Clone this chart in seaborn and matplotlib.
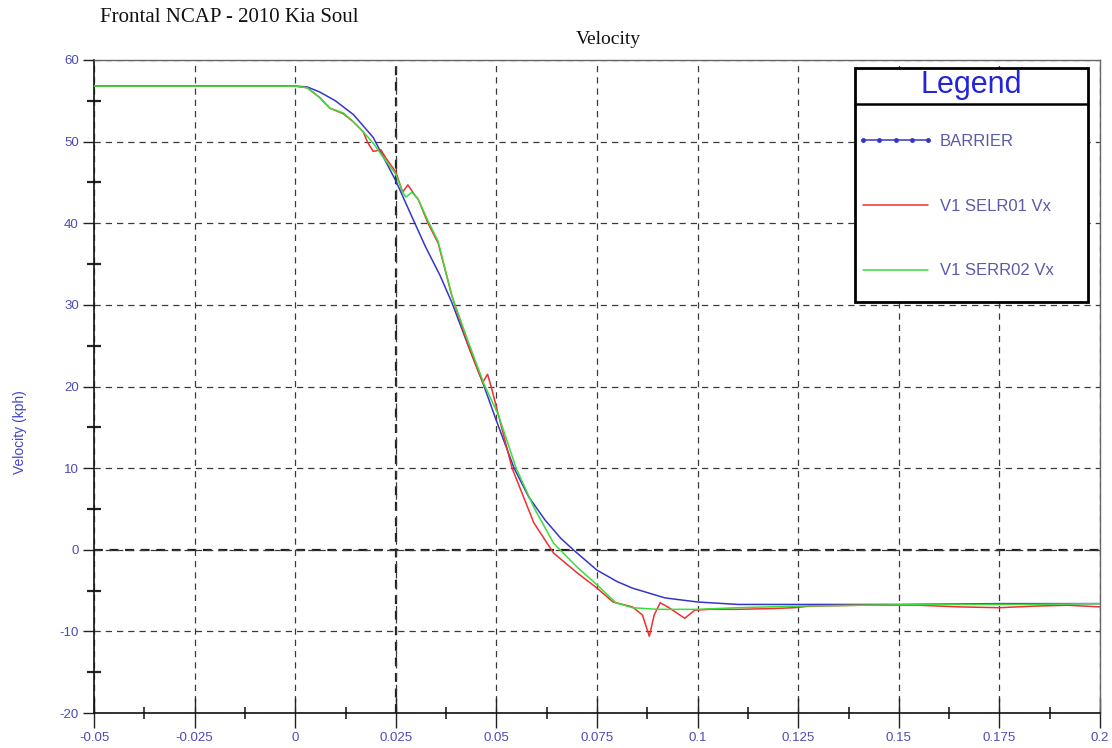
import numpy as np
import pandas as pd
import matplotlib
matplotlib.use("Agg")
import matplotlib.pyplot as plt
from matplotlib.lines import Line2D
from matplotlib.patches import Rectangle
from matplotlib.ticker import MultipleLocator
import seaborn as sns

# curves (time in s, velocity in kph)
t_barrier = [-0.05, 0.0, 0.003, 0.006, 0.010, 0.0145, 0.0194, 0.0233, 0.025, 0.029,
             0.0324, 0.036, 0.039, 0.043, 0.0466, 0.050, 0.0544, 0.058, 0.062, 0.066,
             0.0691, 0.075, 0.080, 0.0838, 0.0919, 0.100, 0.110, 0.125, 0.150, 0.175, 0.200]
v_barrier = [56.8, 56.8, 56.7, 56.1, 55.0, 53.3, 50.5, 46.8, 45.2, 40.8,
             37.1, 33.6, 30.2, 25.0, 20.5, 15.8, 10.0, 6.5, 3.7, 1.4,
             0.0, -2.5, -3.9, -4.7, -5.9, -6.4, -6.7, -6.7, -6.7, -6.6, -6.6]

t_selr01 = [-0.05, 0.0, 0.003, 0.0061, 0.0086, 0.012, 0.0145, 0.0169, 0.018, 0.0194,
            0.0213, 0.0225, 0.025, 0.0267, 0.028, 0.0295, 0.0306, 0.033, 0.0355, 0.039,
            0.043, 0.0466, 0.0478, 0.0488, 0.0505, 0.0539, 0.0593, 0.0642, 0.070, 0.075,
            0.079, 0.0838, 0.0863, 0.088, 0.0892, 0.0907, 0.0929, 0.0968, 0.0993, 0.103,
            0.110, 0.119, 0.124, 0.128, 0.140, 0.155, 0.165, 0.175, 0.184, 0.192, 0.200]
v_selr01 = [56.8, 56.8, 56.6, 55.4, 54.1, 53.4, 52.4, 51.2, 49.9, 48.8,
            49.0, 48.0, 46.3, 43.8, 44.7, 43.6, 42.9, 40.0, 37.6, 31.0,
            25.0, 20.5, 21.5, 19.8, 16.5, 10.0, 3.3, -0.4, -2.8, -4.7,
            -6.4, -7.0, -8.0, -10.6, -8.0, -6.5, -7.1, -8.4, -7.4, -7.3,
            -7.3, -7.2, -7.1, -6.9, -6.8, -6.8, -7.0, -7.1, -6.9, -6.8, -7.0]

t_serr02 = [-0.05, 0.0, 0.003, 0.0061, 0.0086, 0.012, 0.0145, 0.0169, 0.0194, 0.022,
            0.025, 0.0267, 0.0275, 0.029, 0.0306, 0.033, 0.0355, 0.039, 0.043, 0.047,
            0.0505, 0.0549, 0.0593, 0.0642, 0.070, 0.075, 0.0797, 0.0838, 0.090, 0.100,
            0.110, 0.125, 0.140, 0.160, 0.180, 0.200]
v_serr02 = [56.8, 56.8, 56.6, 55.4, 54.1, 53.5, 52.4, 51.2, 49.8, 48.0,
            46.0, 43.8, 43.2, 43.8, 42.9, 40.3, 37.8, 31.0, 25.5, 20.2,
            16.5, 10.0, 5.2, 0.8, -2.1, -4.3, -6.5, -7.1, -7.3, -7.3,
            -7.1, -6.9, -6.8, -6.7, -6.7, -6.6]

series_names = ["BARRIER", "V1 SELR01 Vx", "V1 SERR02 Vx"]
series_colors = {"BARRIER": "#3535c8", "V1 SELR01 Vx": "#ee3030", "V1 SERR02 Vx": "#3cdc3c"}

x_ticks = [-0.05, -0.025, 0, 0.025, 0.05, 0.075, 0.1, 0.125, 0.15, 0.175, 0.2]
x_tick_labels = ["-0.05", "-0.025", "0", "0.025", "0.05", "0.075", "0.1", "0.125", "0.15", "0.175", "0.2"]
y_ticks = [-20, -10, 0, 10, 20, 30, 40, 50, 60]

# long table for seaborn
frames = []
for name, t, v in zip(series_names, [t_barrier, t_selr01, t_serr02], [v_barrier, v_selr01, v_serr02]):
    frames.append(pd.DataFrame({"time": t, "velocity": v, "series": name}))
df = pd.concat(frames, ignore_index=True)

sns.set_style("white")
plt.rcParams["font.family"] = ["Liberation Sans", "DejaVu Sans"]
plt.rcParams["axes.unicode_minus"] = False

fig = plt.figure(figsize=(11.12, 7.48), dpi=100)
ax = fig.add_axes([94 / 1112, 35 / 748, 1006 / 1112, 653 / 748])

label_blue = "#4b4bb8"
grid_kw = dict(color="#3a3a3a", linestyle=(0, (5, 4)), linewidth=0.9)

ax.set_xlim(-0.05, 0.2)
ax.set_ylim(-20, 60)
ax.set_xticks(x_ticks)
ax.set_xticklabels(x_tick_labels)
ax.set_yticks(y_ticks)
ax.xaxis.set_minor_locator(MultipleLocator(0.0125))
ax.yaxis.set_minor_locator(MultipleLocator(5))
ax.grid(True, which="major", **grid_kw)
ax.set_axisbelow(True)
# the two darker grid lines of the scan
ax.axvline(0.025, color="#222222", linestyle=(0, (4, 3)), linewidth=1.6, zorder=0.5)
ax.axhline(0, color="#222222", linestyle=(0, (4, 3)), linewidth=1.6, zorder=0.5)

sns.lineplot(data=df, x="time", y="velocity", hue="series", hue_order=series_names,
             palette=series_colors, estimator=None, sort=False, linewidth=1.1,
             legend=False, ax=ax, zorder=3)

ax.tick_params(axis="x", which="major", length=21, width=1, direction="inout", color="#222222",
               pad=3.5, labelsize=9.5, labelcolor=label_blue, bottom=True)
ax.tick_params(axis="y", which="major", length=8, width=1, direction="out", color="#222222",
               pad=3, labelsize=9.5, labelcolor=label_blue, left=True)
ax.tick_params(axis="x", which="minor", length=9, width=1.2, direction="inout", color="#222222", bottom=True)
ax.tick_params(axis="y", which="minor", length=10, width=1.6, direction="inout", color="#222222", left=True)

for side in ["left", "bottom"]:
    ax.spines[side].set_color("#111111")
    ax.spines[side].set_linewidth(1.2)
for side in ["top", "right"]:
    ax.spines[side].set_color("#666666")
    ax.spines[side].set_linewidth(1.0)

ax.set_xlabel("")
ax.set_ylabel("Velocity (kph)", color="#4444cc", fontsize=10)
ax.yaxis.set_label_coords(-0.0665, 0.43)

fig.text(100 / 1112, 1 - 17 / 748, "Frontal NCAP - 2010 Kia Soul", ha="left", va="center",
         fontsize=15, family=["Liberation Serif", "DejaVu Serif"], color="#111111")
fig.text(608 / 1112, 1 - 40 / 748, "Velocity", ha="center", va="center",
         fontsize=14, family=["Liberation Serif", "DejaVu Serif"], color="#111111")

# legend: framed box with a "Legend" header row
box_x0, box_x1 = (855 - 94) / 1006, (1088 - 94) / 1006
box_y0, box_y1 = (713 - 302) / 653, (713 - 68) / 653
sep_y = (713 - 104) / 653
ax.add_patch(Rectangle((box_x0, box_y0), box_x1 - box_x0, box_y1 - box_y0, transform=ax.transAxes,
                       facecolor="white", edgecolor="black", linewidth=2, zorder=9))
ax.add_line(Line2D([box_x0, box_x1], [sep_y, sep_y], transform=ax.transAxes,
                   color="black", linewidth=1.8, zorder=10))
ax.text((box_x0 + box_x1) / 2, (sep_y + box_y1) / 2 + 0.002, "Legend", transform=ax.transAxes,
        ha="center", va="center", fontsize=22, color="#2424d8", zorder=11)

handles = [
    Line2D([], [], color=series_colors["BARRIER"], linewidth=1.1, marker="o", markersize=2.5),
    Line2D([], [], color=series_colors["V1 SELR01 Vx"], linewidth=1.1),
    Line2D([], [], color=series_colors["V1 SERR02 Vx"], linewidth=1.1),
]
leg = ax.legend(handles, series_names, loc="upper left",
                bbox_to_anchor=((858 - 94) / 1006, (713 - 134) / 653),
                borderaxespad=0, borderpad=0, frameon=False, fontsize=12,
                labelcolor="#5a5aaa", handlelength=4.5, handletextpad=0.4,
                labelspacing=2.98, numpoints=5)
leg.set_zorder(12)

fig.savefig("out.png", dpi=100)
